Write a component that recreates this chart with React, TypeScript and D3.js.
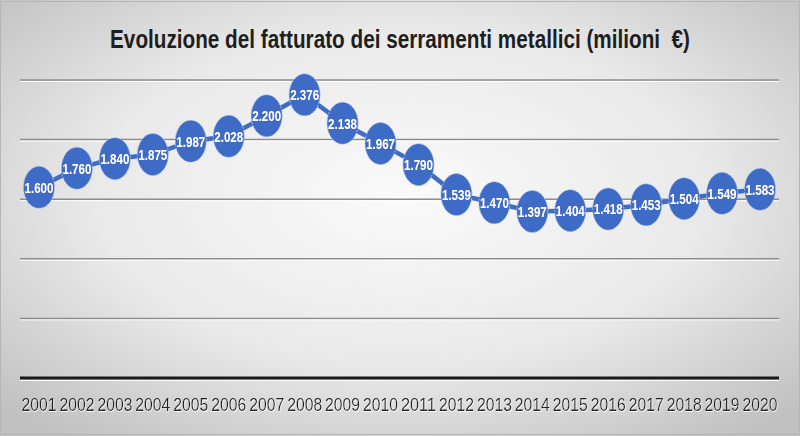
import React, { useLayoutEffect, useRef, useState } from "react";
import * as d3 from "d3";

const years = ["2001","2002","2003","2004","2005","2006","2007","2008","2009","2010","2011","2012","2013","2014","2015","2016","2017","2018","2019","2020"];
const values = [1600,1760,1840,1875,1987,2028,2200,2376,2138,1967,1790,1539,1470,1397,1404,1418,1453,1504,1549,1583];
const gridValues = [500, 1000, 1500, 2000, 2500];
const title = "Evoluzione del fatturato dei serramenti metallici (milioni \u00a0€)";

const W = 800, H = 436;
const it = d3.formatLocale({ decimal: ",", thousands: ".", grouping: [3], currency: ["", "€"] });
const fmt = it.format(",d");
const font = "'Liberation Sans', Arial, sans-serif";

function FitText(props: { x: number; y: number; width: number; children: string; [k: string]: any }) {
  const { x, y, width, children, ...rest } = props;
  const ref = useRef<SVGTextElement>(null);
  const [s, setS] = useState(1);
  useLayoutEffect(() => {
    if (ref.current) {
      const w = ref.current.getComputedTextLength();
      if (w > 0) setS(width / w);
    }
  }, [children, width]);
  return (
    <text ref={ref} transform={`translate(${x},${y}) scale(${s},1)`} textAnchor="middle" {...rest}>{children}</text>
  );
}

export default function App() {
  const x = d3.scaleBand<string>().domain(years).range([20, 779]);
  const y = d3.scaleLinear().domain([0, 2500]).range([378, 80]);
  const cx = (d: string) => (x(d) as number) + x.bandwidth() / 2;
  const line = d3.line<number>().x((_, i) => cx(years[i])).y((v) => y(v));
  return (
    <svg width={W} height={H} style={{ position: "absolute", left: 0, top: 0, display: "block" }}>
      <defs>
        <radialGradient id="bg" cx="50%" cy="45%" r="70%">
          <stop offset="0%" stopColor="#fafafa" />
          <stop offset="55%" stopColor="#e9e9e9" />
          <stop offset="100%" stopColor="#c0c0c0" />
        </radialGradient>
        <filter id="txtsh" x="-10%" y="-10%" width="120%" height="140%">
          <feDropShadow dx="0.6" dy="1" stdDeviation="0.4" floodColor="#ffffff" floodOpacity="0.9" />
        </filter>
        <filter id="dsh" x="-20%" y="-20%" width="140%" height="140%">
          <feDropShadow dx="0" dy="0" stdDeviation="0.7" floodColor="#1c3f80" floodOpacity="0.8" />
        </filter>
      </defs>
      <rect x={0} y={0} width={W} height={H} fill="url(#bg)" />
      <rect x={0.5} y={1.5} width={W - 1} height={H - 3} fill="none" stroke="#b5b5b5" strokeWidth={1} />
      <FitText x={400} y={48} width={580} fontFamily={font} fontWeight="bold" fontSize={26} fill="#1e1e1e">{title}</FitText>
      {gridValues.map((g) => (
        <g key={g}>
          <line x1={20} x2={779} y1={y(g)} y2={y(g)} stroke="#8c8c8c" strokeWidth={1.5} />
          <line x1={20} x2={779} y1={y(g) + 1.5} y2={y(g) + 1.5} stroke="#ffffff" strokeWidth={1} opacity={0.9} />
        </g>
      ))}
      <line x1={20} x2={779} y1={y(0)} y2={y(0)} stroke="#1a1a1a" strokeWidth={3} />
      <line x1={20} x2={779} y1={y(0) + 2.5} y2={y(0) + 2.5} stroke="#ffffff" strokeWidth={1.2} opacity={0.9} />
      <path d={line(values) as string} fill="none" stroke="#3f6cc4" strokeWidth={4.5} strokeLinejoin="round" />
      {values.map((v, i) => (
        <ellipse key={years[i]} cx={cx(years[i])} cy={y(v)} rx={15.5} ry={21} fill="#3d6bc6" stroke="#a9bde6" strokeWidth={1} strokeDasharray="2 1.5" />
      ))}
      {values.map((v, i) => (
        <FitText key={"l" + years[i]} x={cx(years[i])} y={y(v) + 5.5} width={29} fontFamily={font} fontWeight="bold" fontSize={15.5} fill="#ffffff" filter="url(#dsh)">{fmt(v)}</FitText>
      ))}
      {years.map((yr) => (
        <FitText key={"x" + yr} x={cx(yr)} y={411} width={35} fontFamily={font} fontSize={19} fill="#222222" filter="url(#txtsh)">{yr}</FitText>
      ))}
    </svg>
  );
}
